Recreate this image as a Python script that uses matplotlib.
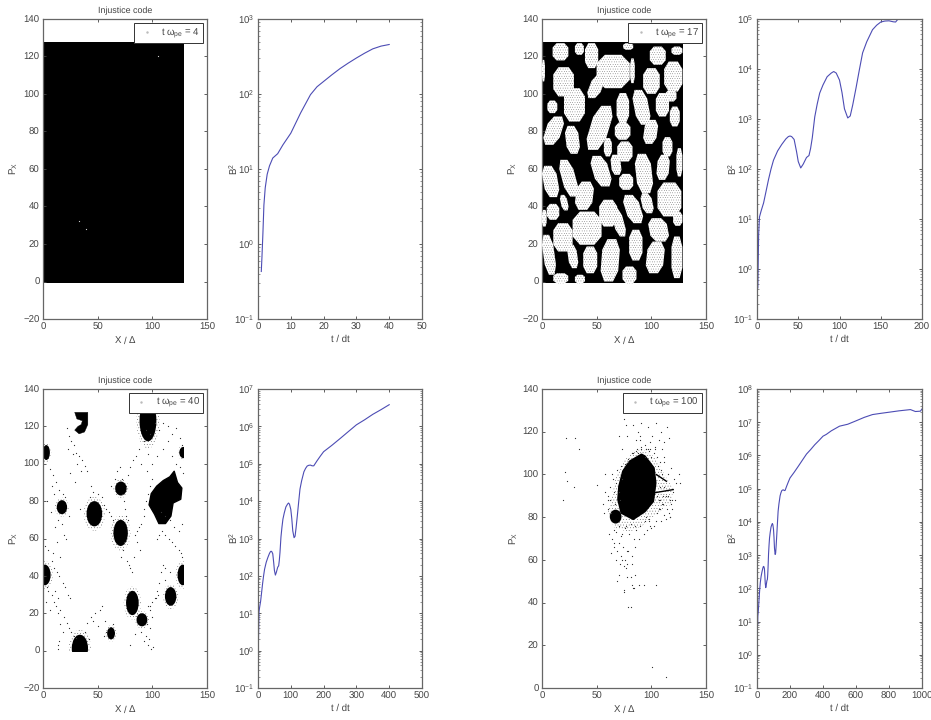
import matplotlib
matplotlib.use("Agg")
import matplotlib.pyplot as plt
from matplotlib.lines import Line2D
from matplotlib.patches import Ellipse, Polygon, Rectangle
from matplotlib.ticker import LogLocator, NullFormatter

plt.rcParams['font.family'] = ['Liberation Sans', 'DejaVu Sans']
plt.rcParams['mathtext.fontset'] = 'custom'
plt.rcParams['mathtext.rm'] = 'Liberation Sans'
plt.rcParams['mathtext.it'] = 'Liberation Sans'
plt.rcParams['mathtext.bf'] = 'Liberation Sans'
plt.rcParams['mathtext.default'] = 'regular'
plt.rcParams['text.hinting'] = 'none'
plt.rcParams['hatch.linewidth'] = 0.1

# B^2 growth, the same run seen up to a later time in every panel
t_early = [1, 1.2, 1.5, 1.8, 2.2, 2.8, 3.5, 4.5, 6, 7.6, 10, 13, 16, 18, 20, 22.5, 25, 27.5, 30, 32.5, 35, 37.5, 40]
b_early = [0.43, 0.66, 1.4, 3.3, 5.6, 8.5, 11, 14, 16, 21, 30, 56, 98, 125, 147, 180, 218, 258, 302, 350, 400, 435, 457]

t_17 = [1, 2, 3, 5, 8, 11, 14, 17, 20, 25, 30, 35, 38, 40, 42, 45, 48, 50, 53, 56, 60, 63, 65, 67, 70, 73, 76, 80,
        85, 90, 93, 96, 100, 103, 106, 110, 113, 116, 120, 124, 128, 133, 140, 145, 150, 155, 160, 165, 168, 171]
b_17 = [0.42, 5, 11, 14.5, 21, 36, 62, 100, 150, 230, 310, 400, 445, 457, 445, 390, 220, 141, 105, 125, 170, 186,
        260, 420, 1100, 2000, 3300, 4800, 7000, 8300, 8900, 8300, 6000, 3400, 1600, 1050, 1150, 1900, 4150, 9500,
        21000, 35000, 61000, 75000, 87000, 91000, 92000, 88000, 87000, 100000]

t_40_tail = [170, 180, 190, 200, 225, 250, 275, 300, 325, 350, 375, 400]
b_40_tail = [8.8e4, 1.2e5, 1.6e5, 2.1e5, 3.1e5, 4.7e5, 7.2e5, 1.1e6, 1.5e6, 2.1e6, 2.8e6, 3.8e6]

t_100_tail = [420, 450, 500, 550, 600, 650, 700, 750, 800, 860, 930, 960, 990, 1000]
b_100_tail = [4.3e6, 5.5e6, 7.6e6, 8.7e6, 1.1e7, 1.4e7, 1.7e7, 1.85e7, 2e7, 2.2e7, 2.4e7, 2.1e7, 2.15e7, 2.5e7]

# phase space at t=4: uniform sheet with a few holes
sheet_x = [0, 129]
sheet_y = [-1, 127.5]
holes_x = [105, 33, 39.5]
holes_y = [120.5, 32, 28]

# phase space at t=17: empty cells in the sheet (x range, y range, lean of top against bottom)
cell_x0 = [9.7, 30.1, 39.3, 74.2, 49.9, 41.4, 10.3, 98.6, 92.5, 111.7, 0, 4.9, 20.1, 40.8, 68.2,
           82.8, 104.1, 116.9, 113.2, 66.6, 92.5, 1.2, 21, 56.6, 68.8, 110.2, 122.9, 104.7,
           44.4, 62.7, 70.6, 84.9, 0, 15.8, 30.1, 16.4, 74.2, 90.1, 105.6, 4.3, 0, 28, 52.3,
           63.6, 10.3, 0, 23.1, 37.7, 53.6, 79.7, 97.1, 94.9, 118.4, 73.6, 10.3, 30.1, 119.9,
           80.6, 118.4]
cell_x1 = [24.1, 38.3, 51.4, 83.4, 80.3, 57.5, 29.2, 113.2, 107.7, 128.4, 2.7, 14, 39.3, 64.5, 79.7,
           99.2, 116.2, 126, 123, 80.9, 106.2, 20.1, 34.7, 63.9, 82.8, 119.3, 128.4, 116.9,
           63.6, 72.7, 83.4, 101.6, 15.8, 33.2, 47.5, 24.3, 92.5, 102.2, 127.5, 15.8, 4.3, 54.5, 68.8,
           76.7, 28, 12.8, 33.2, 50.5, 71.2, 91.9, 116.2, 112.3, 128.4, 86.4, 24, 39.3, 128.4,
           84.9, 128.4]
cell_y0 = [117.9, 120.9, 113.8, 123.6, 103.1, 97.8, 98.7, 115.6, 100.1, 101.3, 106.7, 89.8, 85.3, 70.2, 84.5,
           83.6, 88, 82.7, 96, 75.6, 73.4, 72.9, 68.1, 66.7, 64, 66.7, 56, 54.2,
           50.7, 56.9, 48.9, 47.1, 45, 45.3, 38.2, 37.9, 31.1, 36.4, 34.7, 32.9, 29.3, 19.6, 29.3,
           24, 16, 3.6, 7.1, 4.4, 0, 11.2, 21.3, 4.4, 1.8, -1, -1, -1, 29.7,
           105.8, 120.9]
cell_y1 = [127.1, 127.1, 127.1, 127.1, 120.9, 110.2, 114.3, 125.3, 113.8, 117.3, 118.2, 96.5, 103.1, 93.7, 100.5,
           102.2, 100.5, 93.3, 102.2, 84.8, 86.2, 88, 83, 76.5, 74.7, 77, 71.1, 67.6,
           67, 67.6, 57.4, 68.1, 61.7, 64.9, 53.3, 46.2, 46.2, 47.1, 52.8, 41.4, 38.2, 37.3, 43.6,
           39.1, 31.1, 24.9, 19.6, 18.7, 22.6, 27.6, 33.8, 21.3, 24, 8, 4.4, 3.6, 37.3,
           119, 125.3]
cell_lean = [0, 0, 0, 0, 0, 8, 0, 0, 0, 0, 0, 0, 0, 12, 0,
             -6, 0, 0, 0, 0, 3, 8, -3, 0, 0, 0, 0, 2,
             -8, -2, 0, -4, -5, -9, 3, -3, -8, -4, 0, 0, 0, 0, 0,
             -7, 0, -5, -3, 0, 3, 0, -4, 3, 0, 0, 0, 0, 0,
             0, 0]

# phase space at t=40: dense clumps (x range, y range)
clump_x0 = [0, 125, 66.5, 13, 40.5, 65, -3, 123.5, 76.5, 112, 86, 59, 27, 89]
clump_x1 = [6, 132, 76, 21.6, 53.5, 77, 6.5, 132, 87, 121.5, 95, 65.5, 40.5, 103]
clump_y0 = [102, 103, 83, 73, 66.5, 56, 35, 35, 19, 24, 13, 6, -6, 112]
clump_y1 = [110, 109, 90.5, 80.5, 80, 70, 46, 46, 32, 34, 20, 12.5, 8.5, 134]

big_clump_x = [120, 123, 127, 126, 119, 117, 112, 106, 102, 97, 99, 104, 110, 116]
big_clump_y = [96, 90, 87, 81, 79, 72, 68, 68, 73, 78, 84, 88, 91, 93]
crescent_x = [29, 41, 41, 38, 33, 29, 32, 35, 36, 31]
crescent_y = [127.5, 127.5, 121, 117, 116, 118, 120, 121, 123, 124]

stray40_x = [22, 24, 26, 28, 30, 33, 36, 38, 40, 23, 27, 31, 35, 25, 29, 9, 12, 15, 18, 20, 6, 8, 10, 14, 17,
             4, 7, 11, 19, 21, 2, 5, 9, 13, 16, 24, 34, 43, 46, 44, 50, 54, 56, 58, 60, 62, 64, 66, 62,
             68, 70, 72, 74, 75, 76, 78, 73, 71, 77, 79, 80, 81, 74, 76, 84, 86, 88, 90, 92, 86, 89, 83,
             92, 94, 96, 98, 100, 95, 90, 85, 88, 82, 80, 78, 76, 72, 104, 106, 109, 112, 115, 118, 121,
             124, 126, 127, 110, 114, 118, 122, 125, 127, 104, 100, 96, 92, 94, 98, 102, 106, 110, 114,
             118, 122, 125, 128, 127, 124, 120, 116, 112, 108, 105, 103, 100, 98, 96, 100, 95, 90, 94,
             98, 92, 96, 99, 101, 97, 8, 10, 13, 15, 18, 20, 23, 25, 11, 14, 16, 19, 22, 24, 26, 28, 30,
             40, 44, 48, 52, 54, 57, 60, 64, 58, 56, 50, 46, 42, 38, 8, 5, 3, 12, 14, 16, 18, 10, 6, 4,
             14, 14, 15, 80, 84, 108, 112, 106, 104, 102, 98, 112, 116, 110]
stray40_y = [119, 115, 112, 110, 106, 104, 102, 99, 96, 108, 105, 100, 96, 95, 90, 94, 90, 86, 84, 82, 97, 88, 84, 70,
             68, 80, 74, 66, 62, 60, 56, 54, 52, 58, 50, 72, 76, 82, 85, 88, 84, 82, 78, 76, 74, 72, 70,
             92, 88, 96, 98, 92, 80, 76, 72, 70, 54, 50, 48, 46, 44, 42, 58, 60, 62, 64, 66, 68, 72, 58,
             54, 50, 76, 80, 84, 88, 92, 96, 100, 104, 108, 102, 98, 94, 88, 84, 60, 62, 64, 62, 60, 58, 56,
             54, 52, 50, 108, 112, 116, 119, 114, 110, 104, 100, 105, 112, 118, 116, 122, 118, 122, 120,
             104, 100, 98, 95, 68, 64, 66, 70, 72, 74, 30, 28, 26, 22, 24, 18, 14, 10, 8, 12, 5, 3, 1, 2,
             6, 48, 44, 42, 40, 36, 34, 30, 28, 32, 28, 22, 18, 15, 12, 10, 8, 7, 15, 18, 20, 22, 24, 16,
             12, 14, 10, 8, 13, 16, 6, 10, 30, 32, 26, 24, 20, 14, 10, 26, 22, 34, 1, 3, 5, 3, 9, 42, 38,
             36, 32, 28, 24, 44, 42, 46]

# phase space at t=100: the core, its small side clump, its fringe and the scattered particles
core_x = [91, 94, 102.2, 103.8, 101.6, 94, 83.4, 72.7, 69.7, 70.6, 74.2, 80.3]
core_y = [109.3, 108.5, 103, 96, 87.4, 82.7, 79.1, 82, 88.2, 94.4, 101.5, 106.1]
side_x = [62, 72.7]
side_y = [77, 83.5]
fringe_x = [91, 104, 112, 120, 118, 106, 92, 80, 66, 60, 64, 68, 74, 82]
fringe_y = [112, 108, 100, 93, 86, 82, 76, 73, 75, 82, 90, 100, 106, 110]
ridge1_x = [104.7, 113.8]
ridge1_y = [99.9, 96.8]
ridge2_x = [101.6, 120]
ridge2_y = [91.3, 92.9]

stray100_x = [75, 77, 78, 83, 88, 91, 97, 104, 109, 114, 116, 101, 99, 103, 107, 110, 112, 86, 90, 94, 70, 73, 112,
              22, 30, 34, 21, 23, 29, 50, 19, 70, 66, 61, 64, 68, 72, 76, 80, 84, 66, 63, 70, 74, 78, 82,
              85, 72, 76, 79, 68, 71, 75, 78, 82, 86, 90, 94, 98, 66, 69, 73, 77, 81, 85, 89, 93, 75, 78,
              83, 70, 69, 75, 79, 81, 82, 84, 104, 101, 113, 67, 62, 60, 58, 56, 60, 63, 66, 68, 64, 58, 57,
              62, 65, 69, 72, 60, 67, 106, 109, 112, 115, 118, 121, 123, 125, 126, 120, 117, 113, 110, 107,
              105, 108, 111, 114, 118, 122, 119, 116, 112, 108, 106, 110, 104, 102, 100, 98, 95, 108, 112,
              117, 107, 111, 115, 119, 105, 109, 113, 117, 99, 96, 93, 89, 85, 81, 77, 73, 71, 70, 73, 76,
              79, 83, 87, 91, 95, 98, 102, 105, 108, 88, 91, 94, 97, 100, 79, 82, 86, 90, 95, 99, 103]
stray100_y = [126, 123, 118, 123, 120, 124, 122, 124, 120, 122, 117, 118, 115, 113, 116, 112, 115, 116, 118, 114, 118,
              112, 108, 117, 117, 112, 101, 97, 94, 95, 88, 76, 74, 72, 70, 73, 71, 75, 72, 70, 66, 63, 68,
              66, 64, 62, 66, 62, 60, 64, 60, 58, 57, 58, 58, 74, 76, 78, 78, 68, 64, 60, 56, 52, 53, 48, 48,
              46, 52, 47, 53, 50, 45, 38, 38, 48, 47, 48, 10, 5, 86, 88, 90, 92, 86, 84, 82, 92, 96, 100,
              100, 82, 94, 98, 102, 104, 88, 86, 104, 102, 106, 100, 103, 98, 96, 100, 96, 92, 88, 90, 86,
              84, 90, 88, 86, 84, 86, 88, 84, 82, 94, 94, 92, 100, 78, 76, 75, 79, 80, 84, 81, 80, 88, 90,
              90, 88, 82, 78, 79, 80, 76, 74, 72, 70, 76, 77, 76, 72, 88, 92, 98, 105, 107, 110, 112, 113,
              112, 111, 110, 108, 106, 110, 112, 108, 112, 108, 106, 110, 111, 116, 112, 112, 112]


def ax_at(x0, x1, y0, y1):
    # axes box from figure fractions, top of the image is y=1
    return fig.add_axes([x0 / 931, 1 - y1 / 720, (x1 - x0) / 931, (y1 - y0) / 720])


def style(ax):
    for s in ax.spines.values():
        s.set_color('#666666')
        s.set_linewidth(0.9)
    ax.tick_params(which='both', direction='in', top=True, right=True, labelsize=6.9,
                   colors='#444444', length=2.5, width=0.6, pad=2.5)
    ax.tick_params(which='minor', length=1.5, width=0.4)


def phase_axes(x0, x1, y0, y1, ymin, label):
    ax = ax_at(x0, x1, y0, y1)
    ax.set_xlim(0, 150)
    ax.set_ylim(ymin, 140)
    ax.set_xticks([0, 50, 100, 150])
    ax.set_yticks(range(ymin, 141, 20))
    ax.set_title('Injustice code', fontsize=6.4, color='#444444', pad=4)
    ax.set_xlabel('X / $\\Delta$', fontsize=6.9, color='#444444', labelpad=2)
    ax.set_ylabel('$P_X$', fontsize=6.9, color='#444444', labelpad=2)
    style(ax)
    h = Line2D([], [], ls='none', marker='.', ms=1.5, color='#bbbbbb')
    leg = ax.legend([h], [label], loc='upper right', fontsize=6.9, fancybox=False, framealpha=1,
                    edgecolor='#333333', handlelength=2.0, handletextpad=0.5, borderpad=0.3,
                    borderaxespad=0.45, labelcolor='#444444')
    leg.get_frame().set_linewidth(0.7)
    leg.set_zorder(10)
    return ax


def growth_axes(x0, x1, y0, y1, t, b, xmax, xstep, top):
    ax = ax_at(x0, x1, y0, y1)
    ax.semilogy(t, b, color='#4c4cb4', lw=0.8)
    ax.set_xlim(0, xmax)
    ax.set_ylim(1e-1, 10.0 ** top)
    ax.set_xticks(range(0, xmax + 1, xstep))
    ax.set_yticks([10.0 ** k for k in range(-1, top + 1)])
    ax.yaxis.set_minor_locator(LogLocator(base=10, subs=range(2, 10), numticks=12))
    ax.yaxis.set_minor_formatter(NullFormatter())
    ax.set_ylim(1e-1, 10.0 ** top)
    ax.set_xlabel('t / dt', fontsize=6.9, color='#444444', labelpad=2)
    ax.set_ylabel('$B^2$', fontsize=6.9, color='#444444', labelpad=-4)
    style(ax)
    return ax


def sheet(ax):
    r = Rectangle((sheet_x[0], sheet_y[0]), sheet_x[1] - sheet_x[0], sheet_y[1] - sheet_y[0], fc='k', ec='none')
    ax.add_patch(r)


def cell_outline(x0, x1, y0, y1, lean):
    # eight sided cell inside the range, its top pushed sideways by lean
    cx = (x0 + x1) / 2
    cy = (y0 + y1) / 2
    w = (x1 - x0) / 2 - abs(lean) / 4
    h = (y1 - y0) / 2
    return [(cx + lean / 2 - 0.5 * w, cy + h), (cx + lean / 2 + 0.5 * w, cy + h),
            (cx + lean / 4 + w, cy + 0.5 * h), (cx - lean / 4 + w, cy - 0.5 * h),
            (cx - lean / 2 + 0.5 * w, cy - h), (cx - lean / 2 - 0.5 * w, cy - h),
            (cx - lean / 4 - w, cy - 0.5 * h), (cx + lean / 4 - w, cy + 0.5 * h)]


fig = plt.figure(figsize=(9.31, 7.2), dpi=100)

# top left, t = 4
ax = phase_axes(43, 207, 19, 319, -20, 't $\\omega_{pe}$ = 4')
sheet(ax)
ax.plot(holes_x, holes_y, ls='none', marker='s', ms=0.8, mew=0, color='#cccccc')
growth_axes(258, 422, 19, 319, t_early, b_early, 50, 10, 3)

# top right, t = 17
ax = phase_axes(542, 706, 19, 319, -20, 't $\\omega_{pe}$ = 17')
sheet(ax)
for x0, x1, y0, y1, lean in zip(cell_x0, cell_x1, cell_y0, cell_y1, cell_lean):
    ax.add_patch(Polygon(cell_outline(x0, x1, y0, y1, lean), fc='white', ec='#111111', lw=0,
                         hatch='.......', zorder=3))
growth_axes(757, 922, 19, 319, t_17, b_17, 200, 50, 5)

# bottom left, t = 40
ax = phase_axes(43, 207, 389, 688, -20, 't $\\omega_{pe}$ = 40')
box = Rectangle((sheet_x[0], sheet_y[0]), sheet_x[1], sheet_y[1] - sheet_y[0], transform=ax.transData)
for x0, x1, y0, y1 in zip(clump_x0, clump_x1, clump_y0, clump_y1):
    c = ((x0 + x1) / 2, (y0 + y1) / 2)
    halo = Ellipse(c, (x1 - x0) * 1.5, (y1 - y0) * 1.35, fc='none', ec='k', lw=0, hatch='......')
    ax.add_patch(halo)
    halo.set_clip_path(box)
    e = Ellipse(c, (x1 - x0) * 1.1, y1 - y0, fc='k', ec='none')
    ax.add_patch(e)
    e.set_clip_path(box)
ax.add_patch(Polygon(list(zip(big_clump_x, big_clump_y)), fc='k', ec='k', lw=1.0, joinstyle='round'))
ax.add_patch(Polygon(list(zip(crescent_x, crescent_y)), fc='k', ec='k', lw=0.3))
ax.plot(stray40_x, stray40_y, ls='none', marker='s', ms=0.8, mew=0, color='#333333')
growth_axes(258, 422, 389, 688, [1, 3] + t_17[3:48] + t_40_tail, [1.2, 11] + b_17[3:48] + b_40_tail, 500, 100, 7)

# bottom right, t = 100
ax = phase_axes(542, 706, 389, 688, 0, 't $\\omega_{pe}$ = 100')
ax.add_patch(Polygon(list(zip(fringe_x, fringe_y)), fc='none', ec='k', lw=0, hatch='......'))
ax.add_patch(Polygon(list(zip(core_x, core_y)), fc='k', ec='k', lw=1.5, joinstyle='round'))
ax.add_patch(Ellipse((sum(side_x) / 2, sum(side_y) / 2), side_x[1] - side_x[0], side_y[1] - side_y[0], fc='k', ec='none'))
ax.plot(ridge1_x, ridge1_y, color='k', lw=1.0)
ax.plot(ridge2_x, ridge2_y, color='k', lw=1.0)
ax.plot(stray100_x, stray100_y, ls='none', marker='s', ms=0.8, mew=0, color='#333333')
growth_axes(757, 922, 389, 688, [4] + t_17[3:48] + t_40_tail + t_100_tail,
            [8] + b_17[3:48] + b_40_tail + b_100_tail, 1000, 200, 8)

fig.savefig('out.png', dpi=100)
